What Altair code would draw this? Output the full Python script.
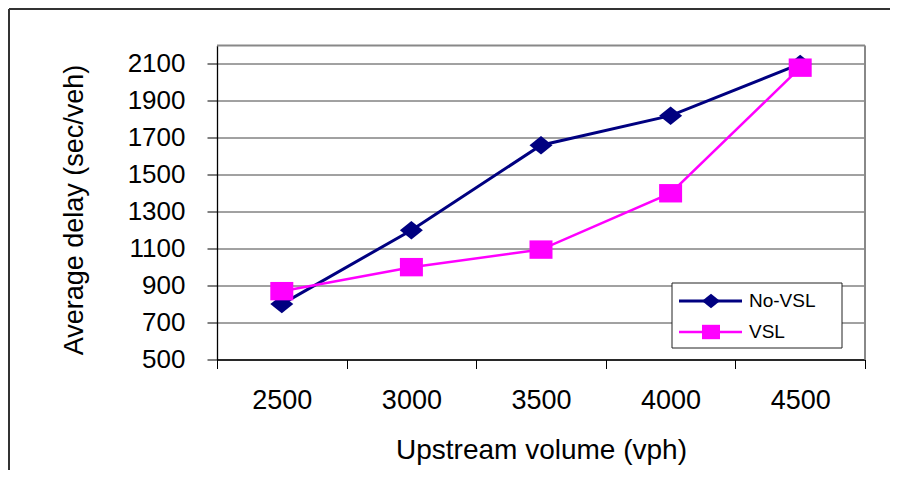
import altair as alt
import pandas as pd

# ---- data ----
volumes = ["2500", "3000", "3500", "4000", "4500"]
no_vsl = [800, 1200, 1660, 1820, 2100]
vsl = [870, 1000, 1095, 1400, 2080]
series_names = ["No-VSL", "VSL"]
series_colors = ["#000080", "#FF00FF"]
y_ticks = [500, 700, 900, 1100, 1300, 1500, 1700, 1900, 2100]

df = pd.DataFrame({
    "volume": volumes * 2,
    "delay": no_vsl + vsl,
    "series": [series_names[0]] * len(volumes) + [series_names[1]] * len(volumes),
})
one = pd.DataFrame({"k": [0]})

FONT = "Liberation Sans"
W, H = 648, 314
PAD_L, PAD_T = 209, 37.5
PAD_R = 898 - 16 - PAD_L - W
PAD_B = 478 - 16 - PAD_T - H

diamond = "M0,-0.8L1,0L0,0.8L-1,0Z"
square = "M-1,-0.8L1,-0.8L1,0.8L-1,0.8Z"
shapes = [diamond, square]
widths = [3, 2.5]

x_enc = alt.X(
    "volume:N", sort=volumes,
    scale=alt.Scale(type="band", paddingInner=0, paddingOuter=0),
    axis=alt.Axis(
        title="Upstream volume (vph)", labelAngle=0, tickBand="extent",
        tickSize=9, tickColor="black", domainColor="black", domainWidth=1.3,
        labelFontSize=27, labelPadding=19, labelColor="black",
        titleFontSize=28, titleFontWeight="normal", titleColor="black",
        titleX=W / 2, titleY=99, titleBaseline="alphabetic", grid=False,
    ),
)
y_enc = alt.Y(
    "delay:Q",
    scale=alt.Scale(domain=[500, 2200], nice=False, zero=False),
    axis=alt.Axis(
        values=y_ticks, format="d", title="Average delay (sec/veh)",
        grid=True, gridColor="#444444", gridWidth=1,
        tickSize=10, tickColor="black", domainColor="black", domainWidth=1.3,
        labelFontSize=26, labelPadding=22, labelColor="black",
        titleFontSize=27, titleFontWeight="normal", titleColor="black",
        titleX=-135, titleY=164, titleBaseline="alphabetic",
    ),
)

base = alt.Chart(df)
layers = []
for name, color, shp, sw in zip(series_names, series_colors, shapes, widths):
    sub = base.transform_filter(alt.datum.series == name)
    layers.append(sub.mark_line(color=color, strokeWidth=sw).encode(x=x_enc, y=y_enc))
    layers.append(sub.mark_point(color=color, filled=True, opacity=1, size=529,
                                 shape=shp, strokeWidth=0).encode(x=x_enc, y=y_enc))

deco = alt.Chart(one)
# plot area top/right border (gray)
frame_top = deco.mark_rule(color="#888888", strokeWidth=2).encode(
    x=alt.value(0), x2=alt.value(W), y=alt.value(0))
frame_right = deco.mark_rule(color="#888888", strokeWidth=2).encode(
    x=alt.value(W), y=alt.value(0), y2=alt.value(H))

# outer chart frame
outer_top = deco.mark_rule(color="#333333", strokeWidth=2).encode(
    x=alt.value(-PAD_L + 1), x2=alt.value(W + PAD_R), y=alt.value(-PAD_T + 1))
outer_left = deco.mark_rule(color="#333333", strokeWidth=2).encode(
    x=alt.value(-PAD_L + 1), y=alt.value(-PAD_T + 1), y2=alt.value(H + PAD_B))

# legend
LX0, LX1, LY0, LY1 = 455, 625, 237.5, 302.5
legend_box = deco.mark_rect(fill="white", stroke="#222222", strokeWidth=1).encode(
    x=alt.value(LX0), x2=alt.value(LX1), y=alt.value(LY0), y2=alt.value(LY1))
leg_layers = [legend_box]
row_y = [255.5, 286.5]
for name, color, shp, sw, ry in zip(series_names, series_colors, shapes, widths, row_y):
    leg_layers.append(deco.mark_rule(color=color, strokeWidth=sw).encode(
        x=alt.value(462), x2=alt.value(525), y=alt.value(ry)))
    leg_layers.append(deco.mark_point(color=color, filled=True, opacity=1, size=324,
                                      shape=shp, strokeWidth=0).encode(
        x=alt.value(494), y=alt.value(ry)))
    leg_layers.append(deco.mark_text(text=name, font=FONT, fontSize=19, color="black",
                                     align="left", baseline="middle").encode(
        x=alt.value(532), y=alt.value(ry)))

chart = alt.layer(
    outer_top, outer_left, *layers, frame_top, frame_right, *leg_layers
).properties(
    width=W, height=H,
    autosize=alt.AutoSizeParams(type="none"),
    padding={"left": PAD_L, "top": PAD_T, "right": PAD_R, "bottom": PAD_B},
    background="white",
).configure_view(stroke=None).configure_axis(
    labelFont=FONT, titleFont=FONT,
)

chart.save("out.html", embed_options={"renderer": "svg", "actions": False})
